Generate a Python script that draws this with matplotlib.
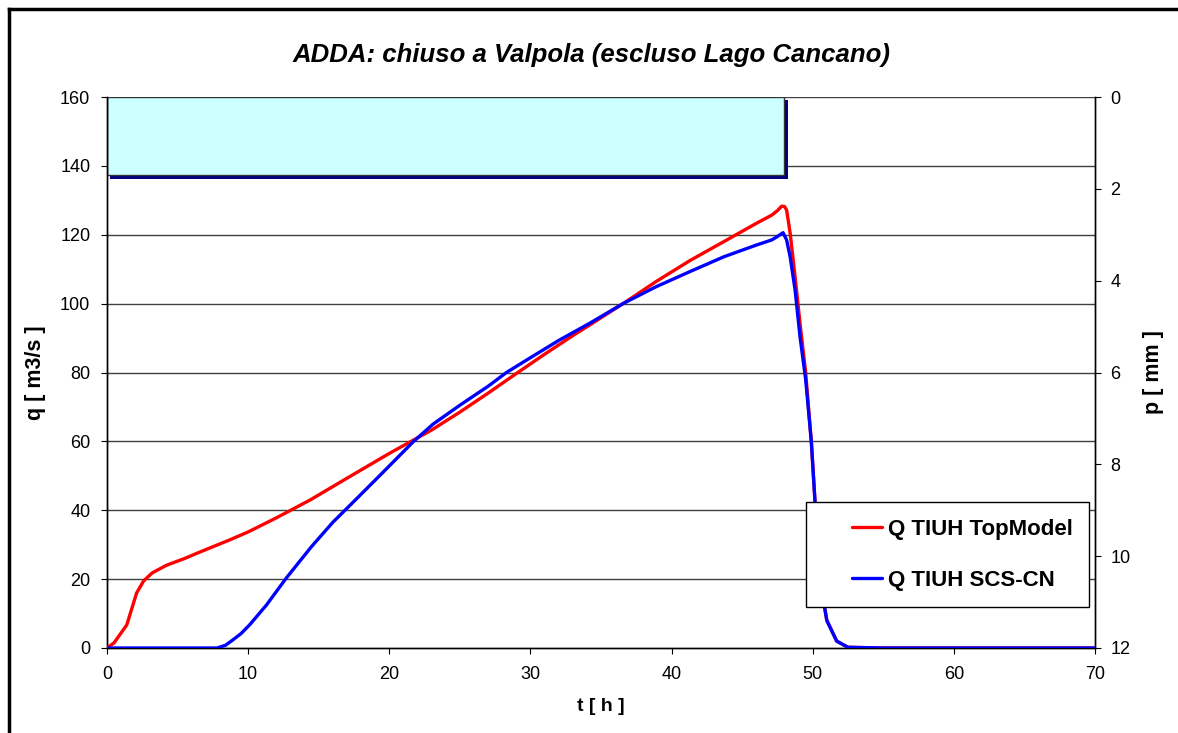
import matplotlib
matplotlib.use('Agg')
import matplotlib.pyplot as plt
import matplotlib.patheffects as pe
from matplotlib.legend_handler import HandlerLine2D
import numpy as np

plt.rcParams['font.family'] = ['Liberation Sans', 'DejaVu Sans']

# --- data ---
t_top = [0, 0.5, 0.9, 1.4, 2.1, 2.6, 3.2, 4.2, 5.5, 6.6, 8.7, 10, 12, 14.4, 17, 20, 23, 25, 27, 29,
         31, 33, 34.2, 36.6, 38.9, 41.3, 43.7, 46, 47.1, 47.5, 47.8, 48.0, 48.15, 48.4, 48.75, 49.1,
         49.5, 49.9, 50.2, 50.5, 51.0, 51.7, 52.5, 55, 60, 70]
q_top = [0, 1.5, 3.8, 6.7, 16, 19.5, 21.8, 24, 26, 27.9, 31.4, 33.7, 37.8, 43, 49.3, 56.5, 63.3, 68.5, 74, 79.7,
         85.3, 90.7, 93.8, 100.1, 106.4, 112.5, 118, 123.3, 125.7, 127, 128.3, 128.2, 127.2, 120.5, 107.8, 94.3,
         80, 60, 40, 20, 8, 2, 0.2, 0, 0, 0]

t_scs = [0, 5, 7.8, 8.4, 8.9, 9.5, 10.1, 11.3, 12.7, 14.5, 16, 17.6, 19.5, 21.7, 23.1, 25, 27, 28.3,
         30, 32, 34.2, 36.6, 38.9, 41.3, 43.7, 46, 47.1, 47.5, 47.9, 48.15, 48.4, 48.75, 49.1,
         49.5, 49.9, 50.2, 50.5, 51.0, 51.7, 52.5, 55, 60, 70]
q_scs = [0, 0, 0, 0.8, 2.3, 4.2, 6.7, 12.5, 20.3, 29.5, 36.5, 43, 50.8, 59.9, 65, 70.5, 76, 80,
         84.3, 89.3, 94.3, 100.1, 104.9, 109.3, 113.6, 117, 118.5, 119.5, 120.6, 118.5, 113.6, 104, 90.4,
         78, 60, 40, 20, 8, 2, 0.2, 0, 0, 0]

p_start = [0]
p_dur = [48]
p_mm = [1.7]

fig = plt.figure(figsize=(11.78, 7.33), dpi=100)
ax = fig.add_axes([107/1178, 1 - 648/733, (1095-107)/1178, (648-97)/733])
ax2 = ax.twinx()

# hyetograph on the reversed right axis
ax2.bar(p_start, p_mm, width=p_dur, align='edge', color='#CCFFFF', edgecolor='#333333', linewidth=1,
        path_effects=[pe.SimplePatchShadow(offset=(2.5, -2.5), shadow_rgbFace='#000080', alpha=1), pe.Normal()],
        zorder=1)
ax2.set_ylim(12, 0)
ax2.set_yticks(np.arange(0, 13, 2))
ax2.set_ylabel('p [ mm ]', fontsize=15.5, fontweight='bold')
ax2.yaxis.set_label_coords((1143-107)/988, 0.5)
ax2.tick_params(axis='y', direction='out', length=4, labelsize=13, pad=7)

# discharges
ax.set_zorder(ax2.get_zorder() + 1)
ax.patch.set_visible(False)
ax.plot(t_top, q_top, color='#FF0000', lw=2.4, label='Q TIUH TopModel', zorder=3,
        solid_joinstyle='round', solid_capstyle='round')
ax.plot(t_scs, q_scs, color='#0000FF', lw=2.4, label='Q TIUH SCS-CN', zorder=3,
        solid_joinstyle='round', solid_capstyle='round')

ax.set_xlim(0, 70)
ax.set_ylim(0, 160)
ax.set_xticks(np.arange(0, 71, 10))
ax.set_yticks(np.arange(0, 161, 20))
ax.tick_params(axis='x', direction='out', length=4, labelsize=13, pad=9)
ax.tick_params(axis='y', direction='out', length=4, labelsize=13, pad=8)
for y in range(20, 161, 20):
    ax2.axhline(12 - y * 12 / 160, color='#404040', lw=1, zorder=0)

for a in (ax, ax2):
    a.spines['top'].set_visible(False)
    for s in ('left', 'right', 'bottom'):
        a.spines[s].set_color('black')
        a.spines[s].set_linewidth(1)

ax.set_xlabel('t [ h ]', fontsize=14, fontweight='bold')
ax.xaxis.set_label_coords(0.5, -(698-648)/551)
ax.set_ylabel('q [ m3/s ]', fontsize=15.5, fontweight='bold')
ax.yaxis.set_label_coords(-(107-46)/988, 0.5)

fig.text(592/1178, 1 - 55/733, 'ADDA: chiuso a Valpola (escluso Lago Cancano)', ha='center', va='center',
         fontsize=18.5, fontweight='bold', fontstyle='italic')

hl = HandlerLine2D(xpad=1.3)
leg = ax.legend(loc='upper left', bbox_to_anchor=(806/1178, 1 - 502/733), bbox_transform=fig.transFigure,
                fontsize=16, frameon=True, fancybox=False, handlelength=2.65, handletextpad=0.27,
                labelspacing=1.35, borderpad=0.75, borderaxespad=0,
                handler_map={ax.lines[0]: hl, ax.lines[1]: hl})
for txt in leg.get_texts():
    txt.set_fontweight('bold')
leg.get_frame().set_edgecolor('black')
leg.get_frame().set_linewidth(1)
leg.get_frame().set_alpha(1)

# outer chart border (left and top visible)
fig.add_artist(plt.Line2D([9/1178, 9/1178], [0, 1 - 9/733], color='black', lw=2.5, transform=fig.transFigure))
fig.add_artist(plt.Line2D([9/1178, 1], [1 - 9/733, 1 - 9/733], color='black', lw=2.5, transform=fig.transFigure))

fig.savefig('out.png', dpi=100)
